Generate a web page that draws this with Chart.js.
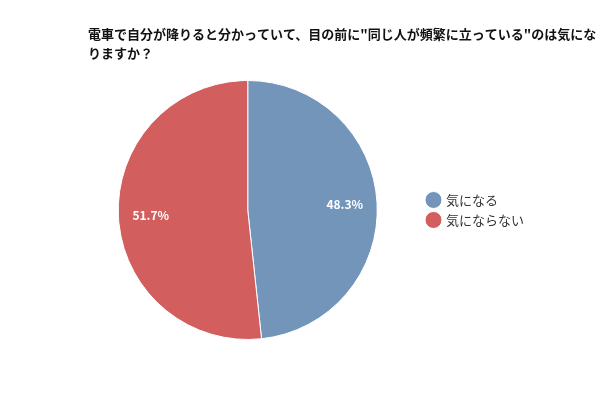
<!DOCTYPE html>
<html>
<head>
<meta charset="utf-8">
<script src="https://cdn.jsdelivr.net/npm/chart.js@4"></script>
<style>
html,body{margin:0;padding:0;background:#fff;}
#wrap{width:600px;height:400px;}
</style>
</head>
<body>
<div id="wrap"><canvas id="c" width="600" height="400"></canvas></div>
<script>
const titleLines = ['電車で自分が降りると分かっていて、目の前に"同じ人が頻繁に立っている"のは気にな', 'りますか？'];
const categories = ['気になる', '気にならない'];
const values = [48.3, 51.7];
const colors = ['#7395BA', '#D25E5E'];

const FONT = "'Noto Sans CJK JP', 'Noto Sans', sans-serif";

const titlePlugin = {
  id: 'leftTitle',
  afterDraw(chart) {
    const ctx = chart.ctx;
    ctx.save();
    ctx.fillStyle = '#111111';
    ctx.font = "bold 13px " + FONT;
    ctx.textAlign = 'left';
    ctx.textBaseline = 'middle';
    titleLines.forEach((line, i) => {
      ctx.fillText(line, 88, 34 + i * 19);
    });
    ctx.restore();
  }
};

const labelPlugin = {
  id: 'sliceLabels',
  afterDatasetsDraw(chart) {
    const ctx = chart.ctx;
    const meta = chart.getDatasetMeta(0);
    ctx.save();
    ctx.fillStyle = '#ffffff';
    ctx.font = "bold 12px " + FONT;
    ctx.textAlign = 'center';
    ctx.textBaseline = 'middle';
    meta.data.forEach((arc, i) => {
      const mid = (arc.startAngle + arc.endAngle) / 2;
      const r = arc.outerRadius * 0.75;
      const x = arc.x + Math.cos(mid) * r;
      const y = arc.y + Math.sin(mid) * r;
      ctx.fillText(values[i].toFixed(1) + '%', x, y);
    });
    ctx.restore();
  }
};

new Chart(document.getElementById('c'), {
  type: 'pie',
  data: {
    labels: categories,
    datasets: [{
      data: values,
      backgroundColor: colors,
      borderColor: '#ffffff',
      borderWidth: 1
    }]
  },
  options: {
    responsive: false,
    animation: false,
    layout: { padding: { left: 75, right: 66, bottom: 60, top: 80 } },
    plugins: {
      title: { display: false },
      legend: {
        position: 'right',
        labels: {
          usePointStyle: true,
          pointStyle: 'circle',
          boxWidth: 12,
          boxHeight: 12,
          padding: 7,
          color: '#333333',
          font: { family: FONT, size: 13 }
        }
      },
      tooltip: { enabled: false }
    }
  },
  plugins: [labelPlugin, titlePlugin]
});
</script>
</body>
</html>
